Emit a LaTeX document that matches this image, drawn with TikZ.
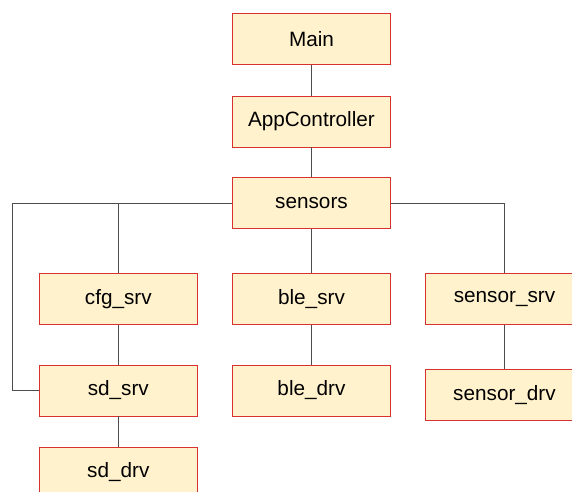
\documentclass[tikz,border=0pt]{standalone}
\usepackage{fontspec}
\setmainfont{Liberation Sans}
\usepackage{tikz}
\definecolor{myboxcolor}{HTML}{FFF2CC}
\definecolor{myedgecolor}{HTML}{D93030}
\definecolor{mylinecolor}{HTML}{4D4D4D}
\tikzset{
  modbox/.style={draw=myedgecolor, fill=myboxcolor, rectangle, line width=0.8pt, minimum width=4.74cm, minimum height=1.53cm, inner sep=0pt, font=\fontsize{17.7}{20}\selectfont},
  wire/.style={draw=mylinecolor, line width=0.8pt}
}

\begin{document}
\begin{tikzpicture}%
\useasboundingbox (0, 0) rectangle (17.16, -14.76);%
\node[modbox] (main) at (9.345, -1.17) {Main};%
\node[modbox] (appctrl) at (9.345, -3.645) {AppController};%
\node[modbox] (sensors) at (9.345, -6.09) {sensors};%
\node[modbox] (cfgsrv) at (3.55, -8.96) {cfg\_srv};%
\node[modbox] (blesrv) at (9.345, -8.96) {ble\_srv};%
\node[modbox] (sensorsrv) at (15.135, -8.96) {sensor\_srv};%
\node[modbox] (sdsrv) at (3.55, -11.715) {sd\_srv};%
\node[modbox] (bledrv) at (9.345, -11.715) {ble\_drv};%
\node[modbox] (sensordrv) at (15.135, -11.84) {sensor\_drv};%
\node[modbox] (sddrv) at (3.55, -14.175) {sd\_drv};%
\coordinate (leftbend) at (0.38, -6.09);%
\draw[wire] (main) -- (appctrl);%
\draw[wire] (appctrl) -- (sensors);%
\draw[wire] (sensors.west) -- (leftbend) |- (sdsrv.west);%
\draw[wire] (sensors.west) -| (cfgsrv.north);%
\draw[wire] (sensors) -- (blesrv);%
\draw[wire] (sensors.east) -| (sensorsrv.north);%
\draw[wire] (cfgsrv) -- (sdsrv);%
\draw[wire] (sdsrv) -- (sddrv);%
\draw[wire] (blesrv) -- (bledrv);%
\draw[wire] (sensorsrv) -- (sensordrv);%
\end{tikzpicture}
\end{document}
